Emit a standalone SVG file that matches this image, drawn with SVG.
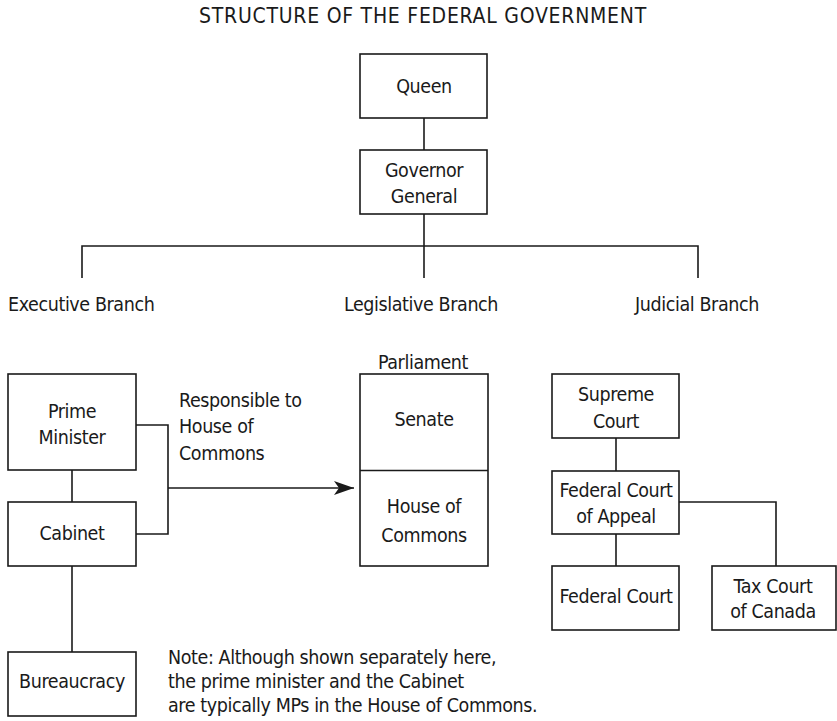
<svg xmlns="http://www.w3.org/2000/svg" width="837" height="721" viewBox="0 0 837 721">
<defs>
<style>
.t{font-family:"DejaVu Sans Condensed","DejaVu Sans",sans-serif;font-stretch:condensed;font-size:19.5px;letter-spacing:-0.4px;fill:#1a1a1a}
.c{text-anchor:middle}
.b{fill:#fff;stroke:#1a1a1a;stroke-width:1.6}
.l{fill:none;stroke:#1a1a1a;stroke-width:1.6}
.ttl{font-size:21px;letter-spacing:0.75px}
</style>
<marker id="ah" markerUnits="userSpaceOnUse" markerWidth="22" markerHeight="16" refX="20" refY="7" orient="auto">
<path d="M0,0 L20,7 L0,14 L5,7 Z" fill="#1a1a1a"/>
</marker>
</defs>
<rect width="837" height="721" fill="#fff"/>
<text class="t c ttl" x="423" y="23">STRUCTURE OF THE FEDERAL GOVERNMENT</text>

<g id="connectors">
<path class="l" d="M424,118 V150"/>
<path class="l" d="M424,214 V246"/>
<path class="l" d="M82,278 V246 H698 V278"/>
<path class="l" d="M424,246 V278"/>
<path class="l" d="M72,470 V502"/>
<path class="l" d="M72,566 V652"/>
<path class="l" d="M136,425 H168 V534 H136"/>
<path class="l" d="M168,488 H354" marker-end="url(#ah)"/>
<path class="l" d="M616,438 V471"/>
<path class="l" d="M616,534 V566"/>
<path class="l" d="M679,502 H776 V566"/>
</g>

<g id="queen">
<rect class="b" x="360" y="54" width="127" height="64"/>
<text class="t c" x="424" y="93">Queen</text>
</g>
<g id="governor-general">
<rect class="b" x="360" y="150" width="127" height="64"/>
<text class="t c" x="424" y="177">Governor</text>
<text class="t c" x="424" y="203">General</text>
</g>

<g id="executive-branch"><text class="t" x="8" y="311">Executive Branch</text></g>
<g id="legislative-branch"><text class="t c" x="421" y="311">Legislative Branch</text></g>
<g id="judicial-branch"><text class="t c" x="697" y="311">Judicial Branch</text></g>

<g id="prime-minister">
<rect class="b" x="8" y="374" width="128" height="96"/>
<text class="t c" x="72" y="418">Prime</text>
<text class="t c" x="72" y="444">Minister</text>
</g>
<g id="cabinet">
<rect class="b" x="8" y="502" width="128" height="64"/>
<text class="t c" x="72" y="540">Cabinet</text>
</g>
<g id="bureaucracy">
<rect class="b" x="8" y="652" width="128" height="64"/>
<text class="t c" x="72" y="688">Bureaucracy</text>
</g>
<g id="responsible-label">
<text class="t" x="179" y="407">Responsible to</text>
<text class="t" x="179" y="433">House of</text>
<text class="t" x="179" y="460">Commons</text>
</g>

<g id="parliament">
<text class="t c" x="423" y="369">Parliament</text>
<rect class="b" x="360" y="374" width="128" height="192"/>
<path class="l" d="M360,470.5 H488"/>
</g>
<g id="senate"><text class="t c" x="424" y="426">Senate</text></g>
<g id="house-of-commons">
<text class="t c" x="424" y="513">House of</text>
<text class="t c" x="424" y="542">Commons</text>
</g>

<g id="supreme-court">
<rect class="b" x="552" y="374" width="127" height="64"/>
<text class="t c" x="616" y="401">Supreme</text>
<text class="t c" x="616" y="428">Court</text>
</g>
<g id="federal-court-of-appeal">
<rect class="b" x="552" y="471" width="127" height="63"/>
<text class="t c" x="616" y="497">Federal Court</text>
<text class="t c" x="616" y="523">of Appeal</text>
</g>
<g id="federal-court">
<rect class="b" x="552" y="566" width="127" height="64"/>
<text class="t c" x="616" y="603">Federal Court</text>
</g>
<g id="tax-court">
<rect class="b" x="712" y="566" width="124" height="64"/>
<text class="t c" x="773" y="593">Tax Court</text>
<text class="t c" x="773" y="618">of Canada</text>
</g>

<g id="note">
<text class="t" x="168" y="664">Note: Although shown separately here,</text>
<text class="t" x="168" y="688">the prime minister and the Cabinet</text>
<text class="t" x="168" y="712">are typically MPs in the House of Commons.</text>
</g>
</svg>
